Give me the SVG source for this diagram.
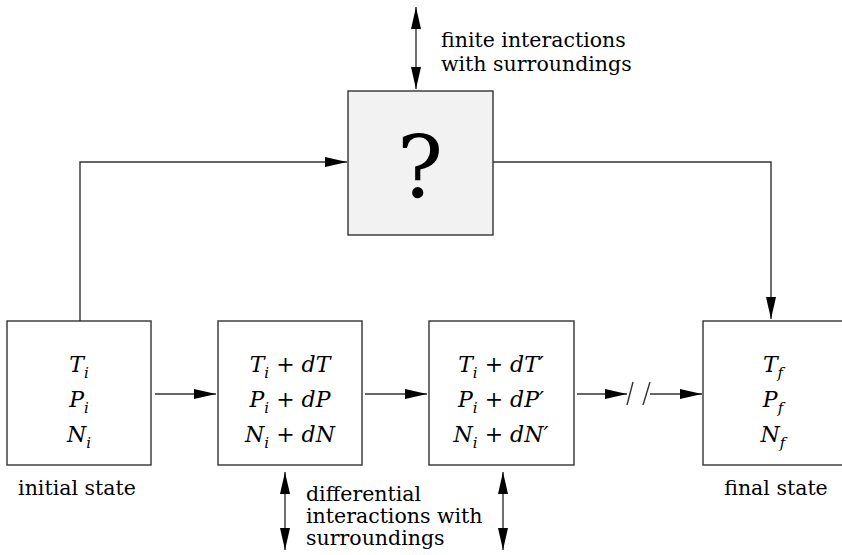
<svg xmlns="http://www.w3.org/2000/svg" width="842" height="555" viewBox="0 0 842 555">
<defs>
<style>
.box{fill:#fff;stroke:#333;stroke-width:1.4}
.q{fill:#f2f2f2;stroke:#333;stroke-width:1.4}
.ln{fill:none;stroke:#333;stroke-width:1.4}
.lbl{font-family:'DejaVu Serif',serif;font-size:20.5px;fill:#000}
.m{font-family:'DejaVu Serif',serif;font-size:22px;fill:#000;text-anchor:middle}
.it{font-style:italic}
.sub{font-style:italic;font-size:15px}
</style>
<marker id="ah" markerUnits="userSpaceOnUse" markerWidth="22" markerHeight="10" refX="22" refY="5" orient="auto-start-reverse" viewBox="0 0 22 10">
<path d="M0,0 L22,5 L0,10 z" fill="#000"/>
</marker>
</defs>
<rect width="842" height="555" fill="#fff"/>

<g id="connectors">
<path class="ln" d="M80,321 V162 H347" marker-end="url(#ah)"/>
<path class="ln" d="M493,162 H771 V319" marker-end="url(#ah)"/>
<line class="ln" x1="416" y1="7" x2="416" y2="89" marker-start="url(#ah)" marker-end="url(#ah)"/>
<line class="ln" x1="285" y1="472" x2="285" y2="550" marker-start="url(#ah)" marker-end="url(#ah)"/>
<line class="ln" x1="503" y1="472" x2="503" y2="550" marker-start="url(#ah)" marker-end="url(#ah)"/>
<line class="ln" x1="155" y1="394" x2="216" y2="394" marker-end="url(#ah)"/>
<line class="ln" x1="365" y1="394" x2="427" y2="394" marker-end="url(#ah)"/>
<line class="ln" x1="577" y1="394" x2="627" y2="394" marker-end="url(#ah)"/>
<line class="ln" x1="627" y1="405" x2="633" y2="382"/>
<line class="ln" x1="643" y1="405" x2="650" y2="382"/>
<line class="ln" x1="650" y1="394" x2="702" y2="394" marker-end="url(#ah)"/>
</g>

<g id="process">
<rect class="q" x="348" y="91" width="145" height="144"/>
<text x="420" y="197" text-anchor="middle" font-family="'DejaVu Serif', serif" font-size="86" fill="#000">?</text>
</g>

<g id="finite-label" font-family="'DejaVu Serif', serif">
<text class="lbl" x="441" y="47">finite interactions</text>
<text class="lbl" x="441" y="71">with surroundings</text>
</g>

<g id="initial" font-family="'DejaVu Serif', serif">
<rect class="box" x="7" y="321" width="144" height="144"/>
<text class="m" x="79" y="372"><tspan class="it">T</tspan><tspan class="sub" dy="6">i</tspan></text>
<text class="m" x="79" y="407"><tspan class="it">P</tspan><tspan class="sub" dy="6">i</tspan></text>
<text class="m" x="79" y="442"><tspan class="it">N</tspan><tspan class="sub" dy="6">i</tspan></text>
<text class="lbl" x="77" y="495" text-anchor="middle">initial state</text>
</g>

<g id="state1" font-family="'DejaVu Serif', serif">
<rect class="box" x="218" y="321" width="144" height="144"/>
<text class="m" x="290" y="372"><tspan class="it">T</tspan><tspan class="sub" dy="6">i</tspan><tspan dy="-6"> + </tspan><tspan class="it">dT</tspan></text>
<text class="m" x="290" y="407"><tspan class="it">P</tspan><tspan class="sub" dy="6">i</tspan><tspan dy="-6"> + </tspan><tspan class="it">dP</tspan></text>
<text class="m" x="290" y="442"><tspan class="it">N</tspan><tspan class="sub" dy="6">i</tspan><tspan dy="-6"> + </tspan><tspan class="it">dN</tspan></text>
</g>

<g id="state2" font-family="'DejaVu Serif', serif">
<rect class="box" x="429" y="321" width="145" height="144"/>
<text class="m" x="501" y="372"><tspan class="it">T</tspan><tspan class="sub" dy="6">i</tspan><tspan dy="-6"> + </tspan><tspan class="it">dT′</tspan></text>
<text class="m" x="501" y="407"><tspan class="it">P</tspan><tspan class="sub" dy="6">i</tspan><tspan dy="-6"> + </tspan><tspan class="it">dP′</tspan></text>
<text class="m" x="501" y="442"><tspan class="it">N</tspan><tspan class="sub" dy="6">i</tspan><tspan dy="-6"> + </tspan><tspan class="it">dN′</tspan></text>
</g>

<g id="final" font-family="'DejaVu Serif', serif">
<rect class="box" x="703" y="321" width="144" height="144"/>
<text class="m" x="773" y="372"><tspan class="it">T</tspan><tspan class="sub" dy="6">f</tspan></text>
<text class="m" x="773" y="407"><tspan class="it">P</tspan><tspan class="sub" dy="6">f</tspan></text>
<text class="m" x="773" y="442"><tspan class="it">N</tspan><tspan class="sub" dy="6">f</tspan></text>
<text class="lbl" x="776" y="495" text-anchor="middle">final state</text>
</g>

<g id="differential-label" font-family="'DejaVu Serif', serif">
<text class="lbl" x="306" y="501">differential</text>
<text class="lbl" x="306" y="523">interactions with</text>
<text class="lbl" x="306" y="545">surroundings</text>
</g>
</svg>
